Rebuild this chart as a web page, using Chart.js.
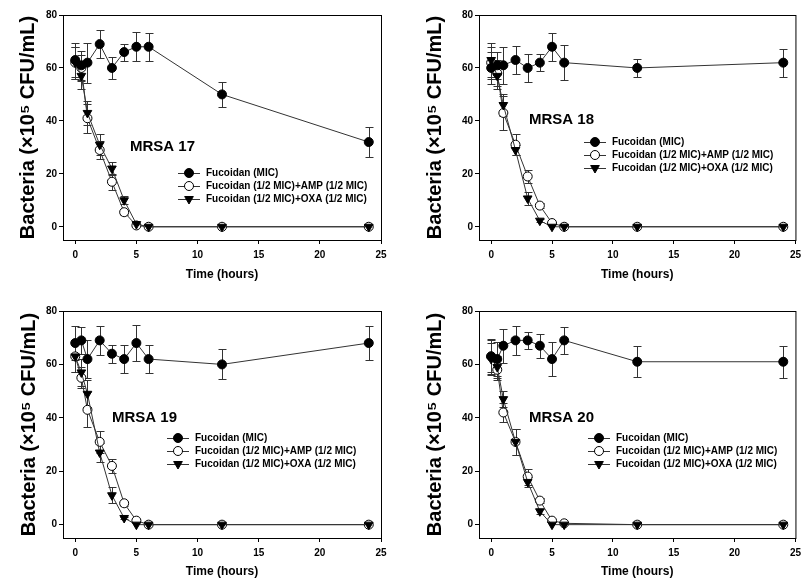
<!DOCTYPE html>
<html>
<head>
<meta charset="utf-8">
<script src="https://cdn.jsdelivr.net/npm/chart.js@4.4.0/dist/chart.umd.min.js"></script>
<style>
html, body { margin: 0; padding: 0; background: #fff; }
#wrap { position: relative; width: 806px; height: 581px; }
canvas { position: absolute; }
</style>
</head>
<body>
<div id="wrap">
  <canvas id="c1" width="403" height="290" style="left:0;top:0"></canvas>
  <canvas id="c2" width="403" height="290" style="left:403px;top:0"></canvas>
  <canvas id="c3" width="403" height="291" style="left:0;top:290px"></canvas>
  <canvas id="c4" width="403" height="291" style="left:403px;top:290px"></canvas>
</div>
<script>
const hours = [0, 0.5, 1, 2, 3, 4, 5, 6, 12, 24];
const xTicks = [0, 5, 10, 15, 20, 25];
const yTicks = [0, 20, 40, 60, 80];
const seriesNames = ['Fucoidan (MIC)', 'Fucoidan (1/2 MIC)+AMP (1/2 MIC)', 'Fucoidan (1/2 MIC)+OXA (1/2 MIC)'];

// MRSA 17
const mic17 = [63, 61, 62, 69, 60, 66, 68, 68, 50, 32];
const mic17Err = [6.5, 5.5, 7.5, 5.4, 4.1, 3.2, 5.5, 5.2, 4.6, 5.7];
const amp17 = [62, 60, 41, 29, 17, 5.5, 0.5, 0, 0, 0];
const amp17Err = [6, 5, 5.5, 3.5, 3, 1, 0, 0, 0, 0];
const oxa17 = [62, 57, 43, 31, 22, 10, 1, 0, 0, 0];
const oxa17Err = [6, 5, 4.5, 4, 2.5, 1.5, 0, 0, 0, 0];

// MRSA 18
const mic18 = [60, 61, 61, 63, 60, 62, 68, 62, 60, 62];
const mic18Err = [6, 5, 7, 5.3, 5.2, 3.3, 5.2, 6.6, 3.4, 5.3];
const amp18 = [62, 58, 43, 31, 19, 8, 1.4, 0, 0, 0];
const amp18Err = [6, 5, 6.5, 4, 2.5, 1, 0, 0, 0, 0];
const oxa18 = [63, 57, 46, 29, 10.7, 2.3, 0, 0, 0, 0];
const oxa18Err = [6.5, 5, 4, 2, 2.5, 0.5, 0, 0, 0, 0];

// MRSA 19
const mic19 = [68, 69, 62, 69, 64, 62, 68, 62, 60, 68];
const mic19Err = [6.5, 5, 7, 5.4, 3.3, 5.3, 6.7, 5.1, 5.6, 6.5];
const amp19 = [63, 55, 43, 31, 22, 8, 1.5, 0, 0, 0];
const amp19Err = [6, 4, 6.5, 4, 2.5, 1, 0, 0, 0, 0];
const oxa19 = [63, 57, 49, 27, 11, 2.5, 0, 0, 0, 0];
const oxa19Err = [6, 5, 5, 3.5, 3, 0.5, 0, 0, 0, 0];

// MRSA 20
const mic20 = [63, 62, 67, 69, 69, 67, 62, 69, 61, 61];
const mic20Err = [6.5, 6.5, 6.3, 5.3, 3.3, 4.5, 6.5, 5, 5.8, 6];
const amp20 = [63, 58, 42, 31, 18, 9, 1.5, 0.5, 0, 0];
const amp20Err = [6, 4, 3.5, 5, 3, 1, 0, 0, 0, 0];
const oxa20 = [62, 59, 47, 31, 16, 5, 0, 0, 0, 0];
const oxa20Err = [6, 4, 3, 5, 2, 1, 0, 0, 0, 0];

const FONT = '"Liberation Sans", Arial, sans-serif';

const panels = [
  { id: 'c1', strain: 'MRSA 17', mic: mic17, micErr: mic17Err, amp: amp17, ampErr: amp17Err, oxa: oxa17, oxaErr: oxa17Err,
    left: 63, top: 15, right: 22, bottom: 50, yTitlePad: 18, xTitlePad: 8, labelX: 130, labelY: 147, legendX: 189, legendY: 173 },
  { id: 'c2', strain: 'MRSA 18', mic: mic18, micErr: mic18Err, amp: amp18, ampErr: amp18Err, oxa: oxa18, oxaErr: oxa18Err,
    left: 76, top: 15, right: 9, bottom: 50, yTitlePad: 22, xTitlePad: 8, labelX: 126, labelY: 120, legendX: 192, legendY: 142 },
  { id: 'c3', strain: 'MRSA 19', mic: mic19, micErr: mic19Err, amp: amp19, ampErr: amp19Err, oxa: oxa19, oxaErr: oxa19Err,
    left: 63, top: 21, right: 22, bottom: 43, yTitlePad: 19, xTitlePad: 2, labelX: 112, labelY: 128, legendX: 178, legendY: 148 },
  { id: 'c4', strain: 'MRSA 20', mic: mic20, micErr: mic20Err, amp: amp20, ampErr: amp20Err, oxa: oxa20, oxaErr: oxa20Err,
    left: 76, top: 21, right: 9, bottom: 43, yTitlePad: 22, xTitlePad: 2, labelX: 126, labelY: 128, legendX: 196, legendY: 148 }
];

const errorBars = {
  id: 'errorBars',
  beforeDatasetsDraw(chart) {
    const ctx = chart.ctx, ys = chart.scales.y;
    chart.data.datasets.forEach((ds, i) => {
      const meta = chart.getDatasetMeta(i);
      ctx.save();
      ctx.strokeStyle = '#333';
      ctx.lineWidth = 1;
      meta.data.forEach((pt, j) => {
        const e = ds.errors[j];
        if (!e) return;
        const v = ds.data[j].y;
        const t = Math.round(ys.getPixelForValue(v + e)) + 0.5;
        const b = Math.round(ys.getPixelForValue(v - e)) + 0.5;
        const x = Math.round(pt.x) + 0.5;
        ctx.beginPath();
        ctx.moveTo(x, t); ctx.lineTo(x, b);
        ctx.moveTo(x - 4, t); ctx.lineTo(x + 4, t);
        ctx.moveTo(x - 4, b); ctx.lineTo(x + 4, b);
        ctx.stroke();
      });
      ctx.restore();
    });
  }
};

const panelDecor = {
  id: 'panelDecor',
  afterDraw(chart, args, opts) {
    const ctx = chart.ctx, a = chart.chartArea;
    ctx.save();
    ctx.strokeStyle = '#000';
    ctx.lineWidth = 1;
    ctx.strokeRect(a.left + 0.5, a.top + 0.5, a.right - a.left, a.bottom - a.top);

    ctx.fillStyle = '#000';
    ctx.textBaseline = 'middle';
    ctx.font = 'bold 15px ' + FONT;
    ctx.fillText(opts.strain, opts.labelX, opts.labelY);

    ctx.font = 'bold 10px ' + FONT;
    chart.data.datasets.forEach((ds, i) => {
      const y = opts.legendY + i * 13;
      ctx.strokeStyle = '#333';
      ctx.beginPath();
      ctx.moveTo(opts.legendX - 11, y + 0.5);
      ctx.lineTo(opts.legendX + 11, y + 0.5);
      ctx.stroke();
      ctx.fillStyle = ds.pointBackgroundColor;
      ctx.strokeStyle = '#000';
      ctx.lineWidth = 1;
      Chart.helpers.drawPoint(ctx, {
        pointStyle: ds.pointStyle, rotation: ds.pointRotation || 0,
        radius: ds.pointRadius, borderWidth: 1
      }, opts.legendX, y);
      ctx.fillStyle = '#000';
      ctx.fillText(ds.label, opts.legendX + 17, y);
    });
    ctx.restore();
  }
};

const pts = (vals) => vals.map((v, i) => ({ x: hours[i], y: v }));

panels.forEach(p => {
  const tickFont = { family: FONT, size: 10, weight: 'bold' };
  new Chart(document.getElementById(p.id), {
    type: 'scatter',
    data: {
      datasets: [
        { label: seriesNames[0], data: pts(p.mic), errors: p.micErr, showLine: true, order: 0,
          borderColor: '#333', borderWidth: 1, pointStyle: 'circle', pointRadius: 4.5,
          pointBackgroundColor: '#000', pointBorderColor: '#000', pointBorderWidth: 1 },
        { label: seriesNames[1], data: pts(p.amp), errors: p.ampErr, showLine: true, order: 2,
          borderColor: '#333', borderWidth: 1, pointStyle: 'circle', pointRadius: 4.5,
          pointBackgroundColor: '#fff', pointBorderColor: '#000', pointBorderWidth: 1 },
        { label: seriesNames[2], data: pts(p.oxa), errors: p.oxaErr, showLine: true, order: 1,
          borderColor: '#333', borderWidth: 1, pointStyle: 'triangle', pointRotation: 180, pointRadius: 5,
          pointBackgroundColor: '#000', pointBorderColor: '#000', pointBorderWidth: 1 }
      ]
    },
    options: {
      responsive: false,
      animation: false,
      events: [],
      layout: { padding: { left: 0, top: p.top, right: p.right, bottom: 0 } },
      plugins: {
        legend: { display: false },
        tooltip: { enabled: false },
        panelDecor: { strain: p.strain, labelX: p.labelX, labelY: p.labelY, legendX: p.legendX, legendY: p.legendY }
      },
      scales: {
        x: {
          type: 'linear', min: -1, max: 25,
          afterBuildTicks: s => { s.ticks = xTicks.map(v => ({ value: v })); },
          afterFit: s => { s.height = p.bottom; },
          grid: { drawOnChartArea: false, tickLength: 4, color: '#000' },
          border: { display: false },
          ticks: { color: '#000', font: tickFont, padding: 5, maxRotation: 0 },
          title: { display: true, text: 'Time (hours)', color: '#000',
                   font: { family: FONT, size: 12, weight: 'bold' }, padding: { top: 0, bottom: p.xTitlePad } }
        },
        y: {
          type: 'linear', min: -5, max: 80,
          afterBuildTicks: s => { s.ticks = yTicks.map(v => ({ value: v })); },
          afterFit: s => { s.width = p.left; },
          grid: { drawOnChartArea: false, tickLength: 4, color: '#000' },
          border: { display: false },
          ticks: { color: '#000', font: tickFont, padding: 2 },
          title: { display: true, text: 'Bacteria (×10⁵ CFU/mL)', color: '#000',
                   font: { family: FONT, size: 20, weight: 'bold', lineHeight: 1 }, padding: { top: p.yTitlePad, bottom: 0 } }
        }
      }
    },
    plugins: [errorBars, panelDecor]
  });
});
</script>
</body>
</html>
